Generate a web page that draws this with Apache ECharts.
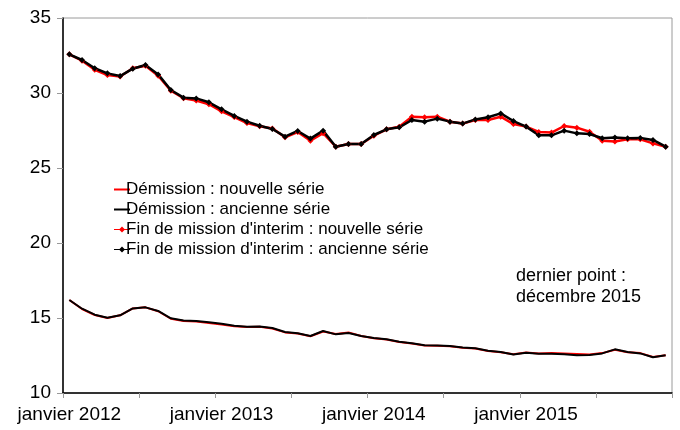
<!DOCTYPE html>
<html><head><meta charset="utf-8">
<script src="https://cdn.jsdelivr.net/npm/echarts@6/dist/echarts.min.js"></script>
<style>html,body{margin:0;padding:0;background:#fff}#c{width:680px;height:430px}</style>
</head><body><div id="c"></div>
<script>
const months = ['janvier','février','mars','avril','mai','juin','juillet','août','septembre','octobre','novembre','décembre'];
const years = [2012, 2013, 2014, 2015];
const categories = [];
years.forEach(y => months.forEach(m => categories.push(m + ' ' + y)));

const demissionNouvelle = [16.2,15.6,15.2,15.0,15.18,15.64,15.71,15.45,14.95,14.8,14.76,14.66,14.57,14.45,14.4,14.42,14.3,14.04,13.96,13.78,14.1,13.93,14.04,13.8,13.65,13.56,13.4,13.3,13.16,13.15,13.12,13.02,12.96,12.8,12.72,12.58,12.7,12.64,12.66,12.64,12.6,12.56,12.66,12.88,12.72,12.66,12.4,12.51];
const demissionAncienne = [16.2,15.62,15.22,15.02,15.18,15.64,15.71,15.47,14.98,14.84,14.8,14.71,14.62,14.49,14.42,14.44,14.33,14.07,13.98,13.8,14.13,13.91,14.0,13.8,13.67,13.58,13.42,13.31,13.18,13.16,13.13,13.04,12.98,12.82,12.73,12.56,12.69,12.62,12.62,12.58,12.51,12.53,12.64,12.91,12.73,12.64,12.38,12.51];
const finNouvelle = [32.58,32.15,31.55,31.2,31.1,31.65,31.82,31.15,30.15,29.65,29.5,29.25,28.78,28.4,28.0,27.78,27.64,27.05,27.4,26.82,27.32,26.42,26.6,26.6,27.15,27.58,27.75,28.42,28.38,28.42,28.09,27.96,28.2,28.2,28.42,27.93,27.76,27.4,27.36,27.8,27.69,27.42,26.82,26.76,26.91,26.91,26.64,26.42];
const finAncienne = [32.58,32.2,31.65,31.31,31.13,31.62,31.87,31.24,30.2,29.69,29.64,29.38,28.91,28.47,28.09,27.82,27.6,27.09,27.47,26.96,27.49,26.42,26.6,26.6,27.2,27.58,27.71,28.2,28.09,28.29,28.09,27.96,28.24,28.38,28.64,28.13,27.76,27.18,27.18,27.49,27.31,27.27,26.98,27.04,26.98,27.0,26.87,26.42];

const seriesNames = ['Démission : nouvelle série','Démission : ancienne série',"Fin de mission d'interim : nouvelle série","Fin de mission d'interim : ancienne série"];
const annotation = 'dernier point :\ndécembre 2015';

const FONT = 'Liberation Sans, Arial, sans-serif';
const chart = echarts.init(document.getElementById('c'), null, {renderer:'canvas'});
function lineSeries(name, data, color, width, marker) {
  return {
    name, type:'line', data, animation:false,
    symbol: marker ? 'diamond' : 'none', symbolSize: 6, showSymbol: !!marker,
    lineStyle:{color, width}, itemStyle:{color, borderWidth:0},
    emphasis:{disabled:true}
  };
}
const lineIcon = 'path://M0 0 H16 V2 H0 Z';
const markIcon = 'path://M0 2.5 H5.5 L8 0 L10.5 2.5 H16 V3.5 H10.5 L8 6 L5.5 3.5 H0 Z';
chart.setOption({
  animation:false,
  textStyle:{fontFamily:FONT},
  grid:{left:63, top:18, right:8, bottom:37, show:true, borderColor:'#9a9a9a', borderWidth:1},
  legend:{
    orient:'vertical', left:109, top:176, itemWidth:16, itemHeight:12, itemGap:3,
    textStyle:{fontFamily:FONT, fontSize:17, color:'#000', lineHeight:16, height:16, padding:[0,0,0,-9]},
    data:[
      {name:seriesNames[0], icon:lineIcon},
      {name:seriesNames[1], icon:lineIcon},
      {name:seriesNames[2], icon:markIcon},
      {name:seriesNames[3], icon:markIcon}
    ]
  },
  xAxis:{
    type:'category', data:categories, boundaryGap:true,
    axisLine:{lineStyle:{color:'#000', width:1.5}},
    axisTick:{show:true, interval:5, length:5, lineStyle:{color:'#999'}},
    axisLabel:{interval:11, fontSize:19, color:'#000', margin:12, fontFamily:FONT}
  },
  yAxis:{
    type:'value', min:10, max:35, interval:5,
    splitLine:{show:false},
    axisLine:{show:true, lineStyle:{color:'#000', width:1.5}},
    axisTick:{show:true, length:6, lineStyle:{color:'#999'}},
    axisLabel:{fontSize:19, color:'#000', margin:12, fontFamily:FONT}
  },
  graphic:[{
    type:'text', left:516, top:266,
    style:{text:annotation, font:'18px ' + FONT, fill:'#000', lineHeight:21}
  }],
  series:[
    lineSeries(seriesNames[0], demissionNouvelle, '#ff0000', 2, false),
    lineSeries(seriesNames[1], demissionAncienne, '#000000', 2, false),
    lineSeries(seriesNames[2], finNouvelle, '#ff0000', 2.5, true),
    lineSeries(seriesNames[3], finAncienne, '#000000', 2.5, true)
  ]
});
</script></body></html>
